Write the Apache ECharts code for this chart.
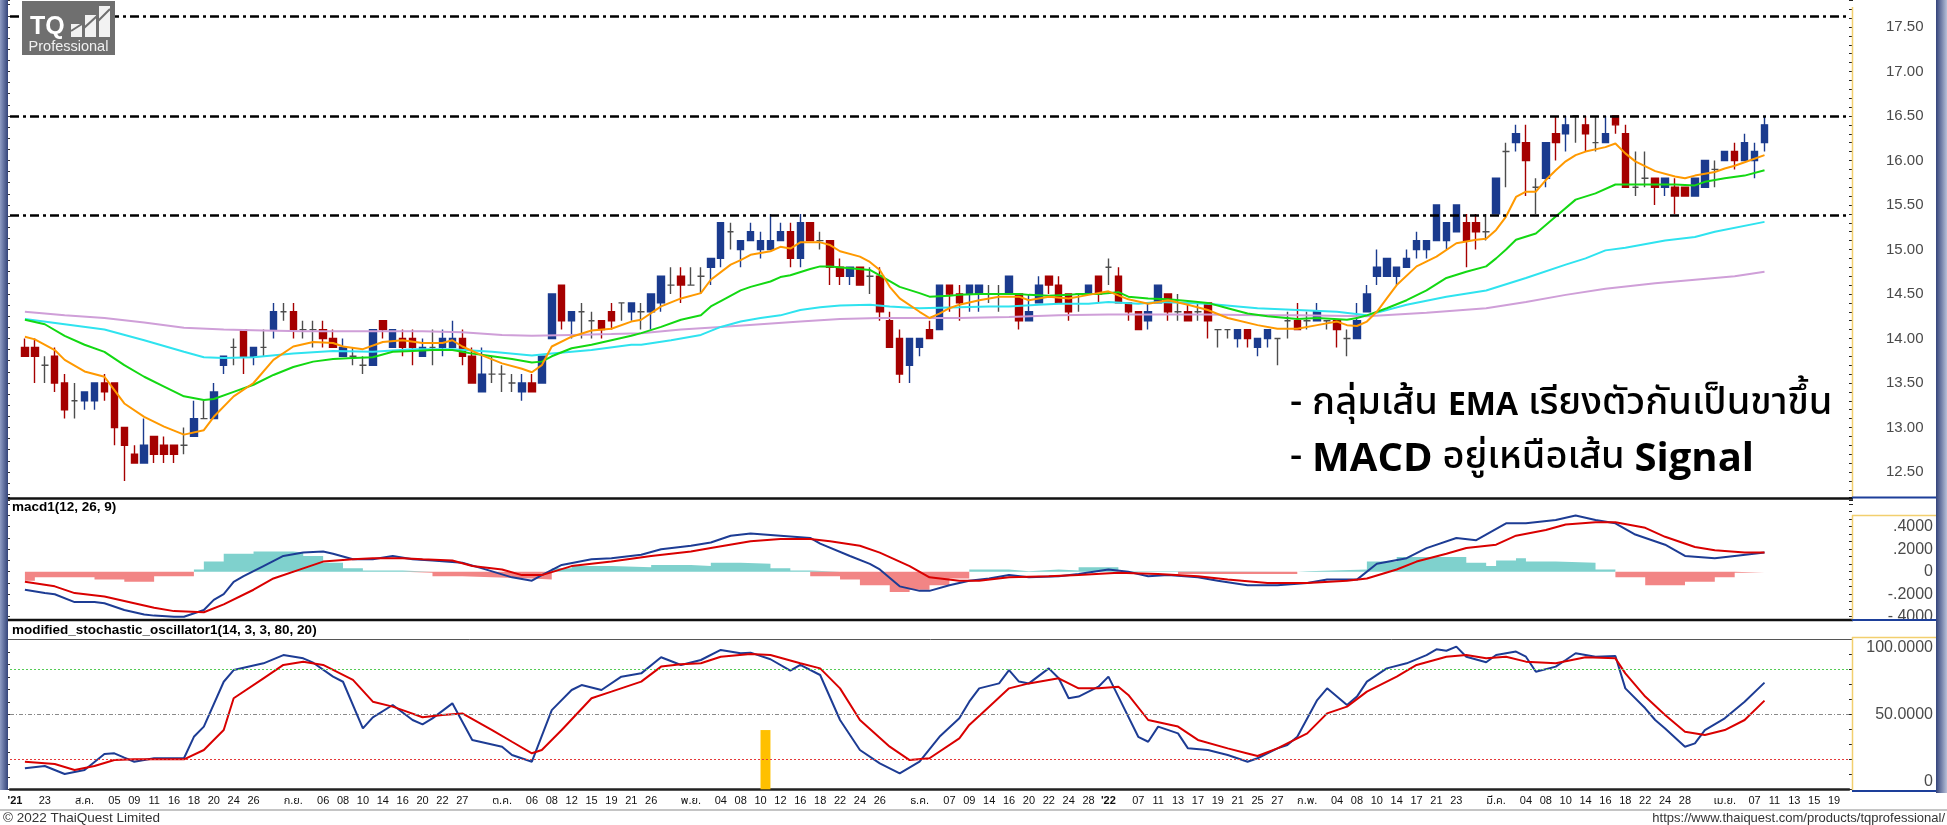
<!DOCTYPE html>
<html>
<head>
<meta charset="utf-8">
<title>TQ Professional chart</title>
<script src="https://cdn.jsdelivr.net/npm/echarts@6/dist/echarts.min.js"></script>
<style>
  html, body { margin: 0; padding: 0; background: #fff; }
  #chart { width: 1947px; height: 825px; }
</style>
</head>
<body>
<div id="chart"></div>
<script>
// time axis has 185 slots, candles sit on slots 1..176
const slotCount = 185

// tick labels on the time axis: [slot, text]
const xTickLabels = [
  [0, "'21"], [3, '23'], [7, 'ส.ค.'], [10, '05'], [12, '09'], [14, '11'], [16, '16'], [18, '18'], [20, '20'], [22, '24'], [24, '26'],
  [28, 'ก.ย.'], [31, '06'], [33, '08'], [35, '10'], [37, '14'], [39, '16'], [41, '20'], [43, '22'], [45, '27'],
  [49, 'ต.ค.'], [52, '06'], [54, '08'], [56, '12'], [58, '15'], [60, '19'], [62, '21'], [64, '26'],
  [68, 'พ.ย.'], [71, '04'], [73, '08'], [75, '10'], [77, '12'], [79, '16'], [81, '18'], [83, '22'], [85, '24'], [87, '26'],
  [91, 'ธ.ค.'], [94, '07'], [96, '09'], [98, '14'], [100, '16'], [102, '20'], [104, '22'], [106, '24'], [108, '28'],
  [110, "'22"], [113, '07'], [115, '11'], [117, '13'], [119, '17'], [121, '19'], [123, '21'], [125, '25'], [127, '27'],
  [130, 'ก.พ.'], [133, '04'], [135, '08'], [137, '10'], [139, '14'], [141, '17'], [143, '21'], [145, '23'],
  [149, 'มี.ค.'], [152, '04'], [154, '08'], [156, '10'], [158, '14'], [160, '16'], [162, '18'], [164, '22'], [166, '24'], [168, '28'],
  [172, 'เม.ย.'], [175, '07'], [177, '11'], [179, '13'], [181, '15'], [183, '19']
]

// [open, close, low, high], slot 1 .. 176
const ohlc = [
  [13.9, 13.8, 13.8, 14.0], [13.9, 13.8, 13.5, 14.0], [13.7, 13.7, 13.5, 13.8], [13.8, 13.5, 13.4, 13.9], [13.5, 13.2, 13.1, 13.6],
  [13.3, 13.3, 13.1, 13.5], [13.3, 13.4, 13.2, 13.4], [13.3, 13.5, 13.2, 13.5], [13.5, 13.4, 13.3, 13.6], [13.5, 13.0, 12.8, 13.5],
  [13.0, 12.8, 12.4, 13.0], [12.7, 12.6, 12.6, 12.8], [12.6, 12.8, 12.6, 13.1], [12.9, 12.7, 12.6, 12.9], [12.8, 12.7, 12.6, 12.9],
  [12.8, 12.7, 12.6, 12.8], [12.8, 12.8, 12.7, 13.0], [12.9, 13.1, 12.9, 13.3], [13.1, 13.1, 13.1, 13.3], [13.1, 13.4, 13.1, 13.5],
  [13.7, 13.8, 13.6, 13.8], [13.9, 13.9, 13.7, 14.0], [14.1, 13.8, 13.6, 14.1], [13.8, 13.9, 13.7, 13.9], [13.9, 13.9, 13.8, 14.1],
  [14.1, 14.3, 14.0, 14.4], [14.3, 14.3, 14.2, 14.4], [14.3, 14.1, 14.0, 14.4], [14.1, 14.1, 14.0, 14.2], [14.1, 14.1, 13.9, 14.2],
  [14.1, 14.0, 13.9, 14.2], [14.0, 13.9, 13.9, 14.1], [13.8, 13.9, 13.8, 14.0], [13.8, 13.8, 13.7, 13.9], [13.7, 13.7, 13.6, 13.8],
  [13.7, 14.1, 13.7, 14.1], [14.2, 14.1, 14.0, 14.2], [13.9, 14.1, 13.9, 14.1], [14.0, 13.9, 13.8, 14.1], [14.0, 13.9, 13.7, 14.1],
  [13.8, 13.9, 13.8, 14.0], [13.9, 13.9, 13.7, 14.1], [13.9, 14.0, 13.8, 14.1], [13.9, 14.0, 13.9, 14.2], [14.0, 13.8, 13.7, 14.1],
  [13.8, 13.5, 13.5, 13.9], [13.4, 13.6, 13.4, 13.9], [13.6, 13.6, 13.5, 13.8], [13.6, 13.6, 13.4, 13.7], [13.5, 13.5, 13.4, 13.6],
  [13.4, 13.5, 13.3, 13.6], [13.5, 13.4, 13.4, 13.6], [13.5, 13.8, 13.5, 13.8], [14.0, 14.5, 14.0, 14.5], [14.6, 14.2, 14.1, 14.6],
  [14.2, 14.3, 14.0, 14.3], [14.3, 14.3, 14.0, 14.4], [14.2, 14.2, 14.0, 14.3], [14.2, 14.1, 14.0, 14.2], [14.3, 14.2, 14.1, 14.4],
  [14.4, 14.4, 14.2, 14.4], [14.3, 14.4, 14.2, 14.4], [14.3, 14.3, 14.1, 14.4], [14.3, 14.5, 14.1, 14.5], [14.4, 14.7, 14.3, 14.7],
  [14.6, 14.6, 14.5, 14.8], [14.7, 14.6, 14.4, 14.8], [14.6, 14.6, 14.6, 14.8], [14.7, 14.7, 14.5, 14.8], [14.8, 14.9, 14.6, 14.9],
  [14.9, 15.3, 14.8, 15.3], [15.2, 15.2, 15.0, 15.3], [15.0, 15.1, 14.8, 15.1], [15.1, 15.2, 15.1, 15.3], [15.0, 15.1, 14.9, 15.2],
  [15.0, 15.1, 15.0, 15.4], [15.1, 15.2, 15.1, 15.3], [15.2, 14.9, 14.8, 15.3], [14.9, 15.3, 14.8, 15.4], [15.3, 15.1, 15.1, 15.3],
  [15.1, 15.1, 15.0, 15.2], [15.1, 14.8, 14.6, 15.1], [14.8, 14.7, 14.6, 14.9], [14.7, 14.8, 14.6, 14.8], [14.8, 14.6, 14.6, 14.8],
  [14.7, 14.7, 14.5, 14.8], [14.7, 14.3, 14.2, 14.8], [14.2, 13.9, 13.9, 14.3], [14.0, 13.6, 13.5, 14.1], [13.7, 14.0, 13.5, 14.0],
  [13.9, 14.0, 13.8, 14.0], [14.1, 14.0, 14.0, 14.2], [14.1, 14.6, 14.1, 14.6], [14.6, 14.5, 14.3, 14.6], [14.5, 14.4, 14.2, 14.6],
  [14.5, 14.6, 14.3, 14.6], [14.5, 14.6, 14.3, 14.6], [14.5, 14.5, 14.4, 14.6], [14.5, 14.5, 14.3, 14.6], [14.5, 14.7, 14.5, 14.7],
  [14.5, 14.2, 14.1, 14.5], [14.2, 14.3, 14.2, 14.5], [14.4, 14.6, 14.4, 14.7], [14.7, 14.6, 14.5, 14.7], [14.6, 14.4, 14.4, 14.7],
  [14.5, 14.3, 14.2, 14.5], [14.5, 14.5, 14.3, 14.5], [14.5, 14.6, 14.5, 14.6], [14.7, 14.5, 14.4, 14.7], [14.8, 14.8, 14.6, 14.9],
  [14.7, 14.4, 14.4, 14.8], [14.4, 14.3, 14.2, 14.4], [14.3, 14.1, 14.1, 14.3], [14.2, 14.3, 14.1, 14.4], [14.4, 14.6, 14.4, 14.6],
  [14.5, 14.3, 14.2, 14.5], [14.3, 14.3, 14.2, 14.5], [14.3, 14.2, 14.2, 14.4], [14.3, 14.3, 14.2, 14.4], [14.4, 14.2, 14.0, 14.4],
  [14.1, 14.1, 13.9, 14.1], [14.1, 14.1, 14.0, 14.1], [14.0, 14.1, 13.9, 14.1], [14.1, 14.0, 13.9, 14.1], [13.9, 14.0, 13.8, 14.0],
  [14.0, 14.1, 13.9, 14.1], [14.0, 14.0, 13.7, 14.0], [14.2, 14.2, 14.0, 14.3], [14.2, 14.1, 14.1, 14.4], [14.2, 14.2, 14.1, 14.3],
  [14.2, 14.3, 14.2, 14.4], [14.2, 14.2, 14.1, 14.2], [14.2, 14.1, 13.9, 14.2], [14.0, 14.0, 13.8, 14.1], [14.0, 14.2, 14.0, 14.4],
  [14.3, 14.5, 14.3, 14.6], [14.7, 14.8, 14.6, 15.0], [14.7, 14.9, 14.7, 14.9], [14.7, 14.8, 14.6, 14.8], [14.8, 14.9, 14.8, 15.0],
  [15.0, 15.1, 14.9, 15.2], [15.0, 15.1, 14.9, 15.1], [15.1, 15.5, 15.1, 15.5], [15.1, 15.3, 15.0, 15.3], [15.2, 15.5, 15.2, 15.5],
  [15.3, 15.1, 14.8, 15.4], [15.3, 15.2, 15.0, 15.4], [15.2, 15.2, 15.1, 15.4], [15.4, 15.8, 15.4, 15.8], [16.1, 16.1, 15.7, 16.2],
  [16.2, 16.3, 16.1, 16.4], [16.2, 16.0, 15.6, 16.4], [15.7, 15.7, 15.4, 15.8], [15.8, 16.2, 15.7, 16.2], [16.3, 16.2, 16.0, 16.5],
  [16.3, 16.4, 16.1, 16.5], [16.5, 16.5, 16.2, 16.5], [16.4, 16.3, 16.1, 16.5], [16.2, 16.2, 16.1, 16.5], [16.2, 16.3, 16.2, 16.5],
  [16.5, 16.4, 16.3, 16.5], [16.3, 15.7, 15.7, 16.4], [15.7, 15.7, 15.6, 16.1], [15.8, 15.8, 15.7, 16.1], [15.8, 15.7, 15.5, 15.8],
  [15.7, 15.8, 15.6, 15.8], [15.7, 15.6, 15.4, 15.8], [15.7, 15.6, 15.6, 15.7], [15.6, 15.8, 15.6, 15.8], [15.7, 16.0, 15.7, 16.0],
  [15.9, 15.9, 15.7, 16.0], [16.0, 16.1, 16.0, 16.1], [16.1, 16.0, 15.9, 16.2], [16.0, 16.2, 16.0, 16.3], [16.0, 16.1, 15.8, 16.2],
  [16.2, 16.4, 16.1, 16.5]
]

// moving averages: [slot, price]
const emaOrange = [
  [1, 14.02], [2, 13.99], [4, 13.87], [5, 13.76], [7, 13.63], [9, 13.57], [10, 13.42], [11, 13.27], [13, 13.12], [15, 13.01],
  [17, 12.92], [19, 12.97], [20, 13.12], [22, 13.35], [24, 13.50], [26, 13.76], [28, 13.91], [30, 13.96], [32, 13.95], [33, 13.91],
  [35, 13.88], [37, 13.96], [39, 13.98], [41, 13.95], [43, 13.95], [44, 13.98], [45, 13.91], [47, 13.81], [49, 13.72], [51, 13.66],
  [52, 13.62], [53, 13.70], [54, 13.91], [56, 14.02], [58, 14.09], [60, 14.11], [62, 14.19], [63, 14.21], [65, 14.36], [67, 14.45],
  [69, 14.51], [70, 14.66], [72, 14.83], [73, 14.88], [74, 14.94], [76, 14.98], [77, 15.03], [78, 15.01], [79, 15.08], [81, 15.08],
  [82, 15.05], [83, 14.98], [85, 14.92], [86, 14.86], [87, 14.77], [88, 14.58], [89, 14.45], [91, 14.30], [92, 14.23], [93, 14.28],
  [94, 14.34], [95, 14.38], [97, 14.43], [99, 14.47], [101, 14.47], [102, 14.43], [104, 14.47], [106, 14.45], [108, 14.49], [110, 14.53],
  [112, 14.44], [114, 14.39], [116, 14.43], [118, 14.38], [120, 14.32], [122, 14.23], [125, 14.15], [127, 14.11], [129, 14.11], [131, 14.15],
  [133, 14.19], [134, 14.15], [135, 14.14], [136, 14.19], [137, 14.30], [138, 14.45], [139, 14.60], [141, 14.81], [143, 14.92], [145, 15.07],
  [147, 15.11], [148, 15.12], [149, 15.22], [150, 15.37], [151, 15.59], [152, 15.65], [153, 15.65], [154, 15.78], [155, 15.89], [156, 15.99],
  [157, 16.06], [158, 16.10], [160, 16.15], [161, 16.19], [162, 16.08], [163, 15.99], [165, 15.88], [167, 15.82], [168, 15.80], [169, 15.83],
  [171, 15.87], [172, 15.91], [173, 15.94], [174, 15.98], [176, 16.06]
]
const emaGreen = [
  [1, 14.21], [3, 14.16], [5, 14.03], [7, 13.93], [9, 13.85], [11, 13.70], [13, 13.57], [15, 13.46], [17, 13.35], [19, 13.31],
  [20, 13.32], [22, 13.40], [24, 13.48], [26, 13.59], [28, 13.68], [30, 13.74], [32, 13.77], [34, 13.78], [36, 13.79], [38, 13.85],
  [40, 13.86], [42, 13.87], [44, 13.87], [46, 13.83], [48, 13.80], [50, 13.77], [52, 13.73], [53, 13.74], [54, 13.80], [56, 13.89],
  [58, 13.93], [60, 13.98], [62, 14.03], [63, 14.06], [65, 14.13], [67, 14.21], [69, 14.26], [70, 14.36], [71, 14.42], [73, 14.54],
  [74, 14.58], [76, 14.64], [77, 14.69], [78, 14.71], [80, 14.78], [81, 14.81], [82, 14.81], [84, 14.79], [86, 14.77], [87, 14.71],
  [89, 14.58], [91, 14.51], [92, 14.47], [94, 14.48], [95, 14.49], [97, 14.50], [99, 14.50], [101, 14.50], [102, 14.49], [104, 14.48],
  [106, 14.49], [107, 14.50], [109, 14.50], [111, 14.52], [112, 14.47], [114, 14.45], [116, 14.44], [118, 14.42], [120, 14.40], [122, 14.34],
  [124, 14.28], [126, 14.25], [129, 14.22], [131, 14.23], [134, 14.21], [135, 14.23], [136, 14.26], [138, 14.34], [140, 14.43], [142, 14.54],
  [144, 14.68], [146, 14.75], [148, 14.81], [149, 14.90], [150, 15.00], [151, 15.11], [153, 15.18], [155, 15.37], [157, 15.56], [159, 15.63],
  [161, 15.73], [163, 15.73], [165, 15.73], [167, 15.73], [169, 15.72], [170, 15.76], [172, 15.80], [174, 15.83], [176, 15.89]
]
const emaCyan = [
  [1, 14.22], [5, 14.16], [9, 14.10], [13, 13.98], [17, 13.85], [19, 13.79], [21, 13.78], [24, 13.79], [28, 13.83], [32, 13.86],
  [36, 13.85], [40, 13.88], [44, 13.88], [48, 13.85], [52, 13.81], [54, 13.83], [58, 13.87], [62, 13.93], [63, 13.93], [66, 13.98],
  [69, 14.04], [71, 14.13], [73, 14.19], [75, 14.23], [77, 14.26], [79, 14.32], [81, 14.35], [83, 14.37], [86, 14.38], [88, 14.36],
  [91, 14.34], [95, 14.35], [98, 14.36], [100, 14.36], [103, 14.38], [105, 14.39], [108, 14.39], [110, 14.41], [113, 14.39], [115, 14.41],
  [118, 14.40], [120, 14.39], [123, 14.36], [125, 14.34], [129, 14.32], [133, 14.30], [136, 14.26], [140, 14.38], [144, 14.47], [148, 14.54],
  [152, 14.68], [156, 14.83], [158, 14.90], [160, 14.99], [162, 15.02], [166, 15.10], [169, 15.14], [171, 15.20], [176, 15.31]
]
const emaViolet = [
  [1, 14.30], [5, 14.26], [9, 14.23], [13, 14.18], [17, 14.12], [21, 14.10], [25, 14.09], [29, 14.08], [33, 14.08], [37, 14.08],
  [41, 14.08], [45, 14.07], [49, 14.04], [52, 14.03], [56, 14.04], [60, 14.05], [63, 14.06], [67, 14.10], [71, 14.13], [75, 14.16],
  [79, 14.19], [83, 14.22], [87, 14.23], [91, 14.23], [95, 14.23], [100, 14.24], [105, 14.26], [110, 14.27], [115, 14.27], [120, 14.27],
  [125, 14.26], [129, 14.26], [136, 14.25], [142, 14.29], [148, 14.34], [152, 14.41], [156, 14.49], [160, 14.56], [165, 14.62], [169, 14.66],
  [173, 14.70], [176, 14.75]
]

// macd(12, 26, 9): [slot, value]
const macdLine = [
  [1, -0.16], [3, -0.19], [4, -0.20], [6, -0.27], [8, -0.27], [9, -0.28], [11, -0.34], [13, -0.38], [14, -0.39], [16, -0.40],
  [17, -0.40], [19, -0.34], [20, -0.25], [21, -0.20], [22, -0.09], [23, -0.04], [25, 0.05], [27, 0.14], [29, 0.17], [31, 0.18],
  [32, 0.16], [34, 0.11], [36, 0.11], [38, 0.14], [40, 0.11], [42, 0.10], [45, 0.08], [47, 0.03], [50, -0.05], [52, -0.08],
  [53, -0.03], [55, 0.06], [58, 0.11], [60, 0.12], [63, 0.15], [65, 0.20], [68, 0.23], [70, 0.26], [72, 0.32], [74, 0.34],
  [77, 0.32], [80, 0.30], [81, 0.25], [84, 0.14], [86, 0.07], [87, 0.02], [89, -0.13], [91, -0.17], [92, -0.17], [94, -0.12],
  [96, -0.08], [98, -0.06], [100, -0.03], [102, -0.05], [105, -0.04], [107, -0.02], [110, 0.02], [112, 0.00], [114, -0.04], [116, -0.03],
  [119, -0.05], [121, -0.08], [124, -0.12], [127, -0.12], [130, -0.10], [132, -0.07], [135, -0.07], [137, 0.07], [140, 0.12], [142, 0.21],
  [145, 0.30], [147, 0.28], [150, 0.43], [152, 0.43], [155, 0.46], [157, 0.50], [159, 0.46], [161, 0.43], [163, 0.33], [166, 0.24],
  [168, 0.14], [171, 0.12], [173, 0.14], [176, 0.17]
]
const signalLine = [
  [1, -0.09], [4, -0.13], [6, -0.19], [9, -0.22], [11, -0.26], [14, -0.32], [16, -0.35], [19, -0.36], [21, -0.29], [24, -0.16],
  [26, -0.06], [29, 0.03], [31, 0.09], [34, 0.11], [36, 0.12], [39, 0.12], [41, 0.11], [44, 0.10], [46, 0.05], [49, 0.02],
  [51, -0.03], [53, -0.03], [56, 0.05], [60, 0.09], [64, 0.14], [68, 0.18], [70, 0.21], [74, 0.27], [77, 0.29], [80, 0.29],
  [82, 0.27], [85, 0.23], [87, 0.17], [90, 0.05], [92, -0.05], [95, -0.08], [97, -0.08], [100, -0.05], [104, -0.04], [107, -0.03],
  [111, -0.01], [115, -0.02], [119, -0.04], [122, -0.07], [126, -0.10], [130, -0.10], [134, -0.08], [136, -0.06], [139, 0.02], [141, 0.09],
  [144, 0.16], [146, 0.21], [149, 0.24], [151, 0.32], [154, 0.37], [156, 0.42], [159, 0.44], [161, 0.44], [164, 0.39], [166, 0.31],
  [169, 0.22], [171, 0.19], [174, 0.17], [176, 0.17]
]
// histogram steps: value holds from this slot to the next one
const macdHist = [
  [1, -0.08], [2, -0.05], [8, -0.07], [11, -0.09], [14, -0.04], [18, 0.02], [19, 0.09], [21, 0.16], [24, 0.18], [28, 0.17],
  [29, 0.14], [31, 0.08], [33, 0.03], [35, 0.01], [39, -0.01], [42, -0.04], [45, -0.05], [48, -0.06], [52, -0.07], [54, 0.03],
  [56, 0.05], [60, 0.04], [64, 0.06], [68, 0.05], [70, 0.08], [73, 0.07], [76, 0.03], [78, 0.01], [80, -0.04], [83, -0.07],
  [85, -0.12], [88, -0.18], [90, -0.16], [92, -0.12], [94, -0.06], [96, 0.02], [100, 0.005], [102, 0.02], [105, 0.01], [107, 0.04],
  [111, 0.005], [117, -0.02], [129, 0.005], [130, 0.02], [136, 0.09], [139, 0.13], [146, 0.08], [148, 0.05], [149, 0.10], [151, 0.12],
  [152, 0.09], [155, 0.08], [159, 0.02], [161, -0.05], [164, -0.12], [168, -0.09], [171, -0.05], [173, -0.01], [176, -0.01]
]

// modified stochastic (14, 3, 3, 80, 20)
const stochK = [
  [1, 14.0], [3, 15.5], [5, 10.2], [7, 12.9], [9, 23.5], [10, 24.0], [11, 21.1], [12, 18.4], [14, 20.7], [17, 20.7],
  [18, 35.0], [19, 41.8], [21, 71.7], [22, 79.5], [25, 84.0], [27, 89.5], [29, 87.3], [30, 84.4], [32, 75.1], [33, 71.7],
  [35, 40.6], [36, 48.0], [38, 56.2], [40, 46.2], [41, 43.3], [42, 47.3], [44, 57.3], [46, 32.9], [49, 28.4], [50, 22.9],
  [52, 18.4], [54, 52.8], [56, 66.2], [57, 69.5], [59, 66.2], [61, 75.1], [63, 77.3], [65, 88.0], [67, 82.9], [69, 86.2],
  [71, 92.9], [73, 90.7], [74, 91.1], [76, 86.7], [78, 79.1], [79, 82.9], [81, 76.2], [83, 46.2], [85, 26.2], [87, 17.3],
  [89, 10.6], [91, 18.4], [93, 35.0], [95, 47.3], [96, 58.4], [97, 67.3], [99, 70.6], [100, 79.5], [101, 71.8], [102, 70.6],
  [104, 80.6], [105, 74.0], [106, 60.7], [107, 61.8], [109, 68.4], [110, 75.1], [111, 61.8], [113, 35.0], [114, 31.7], [115, 41.8],
  [117, 37.3], [118, 27.3], [120, 26.2], [122, 22.9], [124, 18.4], [125, 20.7], [127, 27.3], [128, 29.5], [129, 35.0], [131, 59.5],
  [132, 67.3], [134, 56.2], [135, 61.8], [136, 71.8], [138, 80.6], [140, 84.0], [142, 89.5], [143, 93.3], [144, 92.4], [145, 95.1],
  [146, 88.4], [148, 84.7], [149, 89.5], [151, 91.8], [152, 88.4], [153, 78.4], [155, 81.8], [156, 86.2], [157, 90.7], [159, 88.4],
  [161, 88.9], [162, 67.3], [164, 54.0], [165, 46.2], [166, 40.6], [168, 28.4], [169, 30.6], [170, 39.5], [172, 47.3], [174, 58.4],
  [176, 71.1]
]
const stochD = [
  [1, 18.4], [4, 16.9], [6, 12.9], [8, 15.5], [10, 19.5], [12, 20.0], [17, 20.0], [19, 26.2], [21, 39.5], [22, 60.7],
  [25, 74.0], [27, 82.9], [29, 85.1], [31, 82.9], [34, 72.9], [36, 58.4], [38, 55.1], [39, 52.8], [41, 48.0], [43, 49.5],
  [45, 50.6], [48, 39.5], [50, 31.7], [52, 24.0], [53, 26.2], [55, 39.5], [58, 60.7], [60, 65.1], [63, 71.8], [65, 81.8],
  [67, 83.3], [69, 84.0], [71, 88.4], [74, 90.2], [76, 89.5], [79, 84.0], [81, 80.6], [83, 67.3], [85, 46.2], [88, 28.4],
  [90, 19.5], [92, 20.7], [95, 34.0], [96, 42.9], [98, 55.1], [100, 67.3], [102, 70.6], [105, 74.0], [107, 67.3], [109, 67.3],
  [111, 68.4], [112, 62.9], [114, 46.2], [117, 41.8], [119, 32.9], [122, 27.3], [124, 23.9], [125, 22.2], [127, 27.3], [130, 37.3],
  [132, 50.6], [134, 55.1], [136, 65.1], [139, 75.1], [141, 82.9], [144, 88.4], [146, 89.5], [148, 87.3], [150, 88.4], [152, 85.1],
  [155, 84.0], [158, 88.0], [161, 87.3], [162, 77.3], [164, 61.8], [166, 49.5], [168, 38.4], [170, 36.2], [172, 39.5], [174, 46.2],
  [176, 59.1]
]

// dash-dot price levels
const priceLevels = [17.62, 16.5, 15.38]
// stochastic guide lines
const stochLevels = [80, 50, 20]
// orange marker in the stochastic pane: [slot, height]
const signalMark = [75, 39.5]

const labelMap = {}
xTickLabels.forEach(([s, t]) => { labelMap[s] = t })
const slots = Array.from({ length: slotCount }, (_, i) => String(i))

const FONT = "'Liberation Sans', Arial, 'Noto Sans Thai', Tahoma, sans-serif"
const THAI = "'Noto Sans Thai', 'Noto Sans Thai UI', Tahoma, Leelawadee, Loma, Garuda, 'Noto Sans', sans-serif"
const LATIN_BOLD = '"Open Sans", "Noto Sans", sans-serif'

const gridLeft = 10
const gridWidth = 1839

function xAxisFor(gridIndex, showLabels) {
  return {
    type: 'category',
    gridIndex: gridIndex,
    data: slots,
    boundaryGap: true,
    axisTick: { show: false },
    axisLine: showLabels ? { show: true, lineStyle: { color: '#222', width: 2.5 } } : { show: false },
    splitLine: { show: false },
    axisLabel: showLabels ? {
      interval: 0,
      margin: 6,
      fontSize: 11,
      color: '#111',
      fontFamily: FONT,
      formatter: (v, i) => {
        const t = labelMap[i]
        if (!t) return ''
        return t.charAt(0) === "'" ? '{y|' + t + '}' : t
      },
      rich: { y: { fontWeight: 'bold', fontSize: 11, fontFamily: FONT, color: '#111' } }
    } : { show: false }
  }
}

function tickAxis(gridIndex, min, max, interval, minorSplit) {
  // left edge ticks only
  return {
    type: 'value', gridIndex: gridIndex, position: 'left', min: min, max: max,
    minInterval: interval, maxInterval: interval, splitNumber: Math.round((max - min) / interval),
    axisLine: { show: false }, splitLine: { show: false }, axisLabel: { show: false },
    axisTick: { show: true, length: 3, lineStyle: { color: '#333' } },
    minorTick: { show: true, splitNumber: minorSplit, length: 3, lineStyle: { color: '#333' } }
  }
}

const chart = echarts.init(document.getElementById('chart'))

chart.setOption({
  animation: false,
  backgroundColor: '#fff',
  grid: [
    { left: gridLeft, top: 0, width: gridWidth, height: 497 },
    { left: gridLeft, top: 500, width: gridWidth, height: 119 },
    { left: gridLeft, top: 639.3, width: gridWidth, height: 150 }
  ],
  xAxis: [xAxisFor(0, false), xAxisFor(1, false), xAxisFor(2, true)],
  yAxis: [
    tickAxis(0, 12.219, 17.803, 0.5, 4),
    {
      type: 'value', gridIndex: 0, position: 'right', min: 12.219, max: 17.803,
      minInterval: 0.5, maxInterval: 0.5, splitNumber: 11,
      axisLine: { show: false }, splitLine: { show: false },
      axisTick: { show: true, length: 4, lineStyle: { color: '#222' } },
      minorTick: { show: true, splitNumber: 5, length: 3, lineStyle: { color: '#222' } },
      axisLabel: {
        margin: 37, align: 'left', fontSize: 15, color: '#4a4a4a', fontFamily: FONT,
        showMinLabel: false, showMaxLabel: false,
        formatter: v => v.toFixed(2)
      }
    },
    tickAxis(1, -0.42, 0.637, 0.2, 2),
    {
      type: 'value', gridIndex: 1, position: 'right', min: -0.42, max: 0.637,
      minInterval: 0.2, maxInterval: 0.2, splitNumber: 5,
      axisLine: { show: false }, splitLine: { show: false },
      axisTick: { show: true, length: 4, lineStyle: { color: '#222' } },
      minorTick: { show: true, splitNumber: 3, length: 3, lineStyle: { color: '#222' } },
      axisLabel: {
        margin: 84, align: 'right', fontSize: 16, color: '#4a4a4a', fontFamily: FONT,
        showMinLabel: false, showMaxLabel: false,
        formatter: v => {
          if (Math.abs(v) < 1e-9) return '0'
          if (v > 0.5) return ''
          return (v < 0 ? '-' : '') + Math.abs(v).toFixed(4).slice(1)
        }
      }
    },
    tickAxis(2, 0, 100, 50, 6),
    {
      type: 'value', gridIndex: 2, position: 'right', min: 0, max: 100, interval: 50,
      axisLine: { show: false }, splitLine: { show: false },
      axisTick: { show: true, length: 4, lineStyle: { color: '#222' } },
      minorTick: { show: true, splitNumber: 5, length: 3, lineStyle: { color: '#222' } },
      axisLabel: {
        margin: 84, align: 'right', fontSize: 16, color: '#4a4a4a', fontFamily: FONT,
        verticalAlignMaxLabel: 'top', verticalAlignMinLabel: 'bottom',
        formatter: v => v === 0 ? '0' : v.toFixed(4)
      }
    }
  ],
  series: [
    {
      type: 'candlestick', xAxisIndex: 0, yAxisIndex: 1,
      data: ['-'].concat(ohlc),
      barWidth: 7,
      itemStyle: {
        color: '#1b3b8e', color0: '#a50000',
        borderColor: '#1b3b8e', borderColor0: '#a50000', borderColorDoji: '#4d4d4d',
        borderWidth: 1.4
      },
      markLine: {
        silent: true, symbol: ['none', 'none'], label: { show: false },
        lineStyle: { color: '#000', width: 2.5, type: [9, 4, 3, 4] },
        data: priceLevels.map(v => ({ yAxis: v }))
      }
    },
    { type: 'line', xAxisIndex: 0, yAxisIndex: 1, data: emaViolet, symbol: 'none', lineStyle: { color: '#cf9fd8', width: 2 } },
    { type: 'line', xAxisIndex: 0, yAxisIndex: 1, data: emaCyan, symbol: 'none', lineStyle: { color: '#2fe3ef', width: 2 } },
    { type: 'line', xAxisIndex: 0, yAxisIndex: 1, data: emaGreen, symbol: 'none', lineStyle: { color: '#13d813', width: 2 } },
    { type: 'line', xAxisIndex: 0, yAxisIndex: 1, data: emaOrange, symbol: 'none', lineStyle: { color: '#ff9900', width: 2 } },

    {
      type: 'line', xAxisIndex: 1, yAxisIndex: 3, step: 'end', symbol: 'none',
      data: macdHist.map(([s, v]) => [s, Math.max(v, 0)]),
      lineStyle: { width: 0 }, areaStyle: { color: '#7fd1cd', opacity: 1 }
    },
    {
      type: 'line', xAxisIndex: 1, yAxisIndex: 3, step: 'end', symbol: 'none',
      data: macdHist.map(([s, v]) => [s, Math.min(v, 0)]),
      lineStyle: { width: 0 }, areaStyle: { color: '#f28585', opacity: 1 }
    },
    { type: 'line', xAxisIndex: 1, yAxisIndex: 3, data: macdLine, symbol: 'none', lineStyle: { color: '#1d3c94', width: 2 } },
    { type: 'line', xAxisIndex: 1, yAxisIndex: 3, data: signalLine, symbol: 'none', lineStyle: { color: '#d90000', width: 2 } },

    {
      type: 'line', xAxisIndex: 2, yAxisIndex: 5, data: stochK, symbol: 'none',
      lineStyle: { color: '#1d3c94', width: 2 }, z: 4,
      markLine: {
        silent: true, symbol: ['none', 'none'], label: { show: false },
        data: [
          { yAxis: stochLevels[0], lineStyle: { color: '#55cc55', width: 1, type: [2, 2] } },
          { yAxis: stochLevels[1], lineStyle: { color: '#8a8a8a', width: 1, type: [4, 2, 1, 2] } },
          { yAxis: stochLevels[2], lineStyle: { color: '#e53a3a', width: 1, type: [2, 2] } }
        ]
      },
      markArea: {
        silent: true,
        itemStyle: { color: '#ffc000', opacity: 1 },
        data: [[{ xAxis: String(signalMark[0]), yAxis: signalMark[1] }, { xAxis: String(signalMark[0] + 1), yAxis: 0 }]]
      }
    },
    { type: 'line', xAxisIndex: 2, yAxisIndex: 5, data: stochD, symbol: 'none', lineStyle: { color: '#d90000', width: 2 }, z: 4 }
  ],
  graphic: [
    // side strips
    {
      type: 'rect', z: 100, shape: { x: 0, y: 0, width: 8, height: 790 },
      style: { fill: new echarts.graphic.LinearGradient(0, 0, 1, 0, [{ offset: 0, color: '#8e9cc4' }, { offset: 1, color: '#34457a' }]) }
    },
    {
      type: 'rect', z: 100, shape: { x: 1936, y: 0, width: 11, height: 793 },
      style: { fill: new echarts.graphic.LinearGradient(0, 0, 1, 0, [{ offset: 0, color: '#33437a' }, { offset: 1, color: '#b8c0d8' }]) }
    },
    // pane separators
    { type: 'line', z: 100, shape: { x1: 8, y1: 498.5, x2: 1853, y2: 498.5 }, style: { stroke: '#111', lineWidth: 2.5 } },
    { type: 'line', z: 100, shape: { x1: 8, y1: 620, x2: 1853, y2: 620 }, style: { stroke: '#111', lineWidth: 2.5 } },
    { type: 'line', z: 100, shape: { x1: 8, y1: 639.5, x2: 1853, y2: 639.5 }, style: { stroke: '#555', lineWidth: 1 } },
    { type: 'line', z: 100, shape: { x1: 0, y1: 810, x2: 1947, y2: 810 }, style: { stroke: '#b0b0b0', lineWidth: 1.5 } },
    // right scale frames
    { type: 'line', z: 100, shape: { x1: 1852.5, y1: 7, x2: 1852.5, y2: 497 }, style: { stroke: '#f2cf6e', lineWidth: 1.5 } },
    { type: 'line', z: 100, shape: { x1: 1852.5, y1: 515, x2: 1852.5, y2: 620 }, style: { stroke: '#f2cf6e', lineWidth: 1.5 } },
    { type: 'line', z: 100, shape: { x1: 1852, y1: 515.5, x2: 1936, y2: 515.5 }, style: { stroke: '#f2cf6e', lineWidth: 1.5 } },
    { type: 'line', z: 100, shape: { x1: 1852.5, y1: 637, x2: 1852.5, y2: 791 }, style: { stroke: '#f2cf6e', lineWidth: 1.5 } },
    { type: 'line', z: 100, shape: { x1: 1852, y1: 637.5, x2: 1936, y2: 637.5 }, style: { stroke: '#f2cf6e', lineWidth: 1.5 } },
    { type: 'line', z: 100, shape: { x1: 1852, y1: 497.5, x2: 1936, y2: 497.5 }, style: { stroke: '#1d3f9a', lineWidth: 2 } },
    { type: 'line', z: 100, shape: { x1: 1852, y1: 620, x2: 1936, y2: 620 }, style: { stroke: '#1d3f9a', lineWidth: 2 } },
    { type: 'line', z: 100, shape: { x1: 1852, y1: 791, x2: 1936, y2: 791 }, style: { stroke: '#1d3f9a', lineWidth: 2 } },
    // pane titles
    {
      type: 'text', z: 100,
      style: { x: 12, y: 507, text: 'macd1(12, 26, 9)', fill: '#000', font: 'bold 13.5px ' + FONT, verticalAlign: 'middle' }
    },
    {
      type: 'text', z: 100,
      style: { x: 12, y: 630, text: 'modified_stochastic_oscillator1(14, 3, 3, 80, 20)', fill: '#000', font: 'bold 13.5px ' + FONT, verticalAlign: 'middle' }
    },
    // footer
    {
      type: 'text', z: 100,
      style: { x: 3, y: 818, text: '© 2022 ThaiQuest Limited', fill: '#333', font: '13.5px ' + FONT, verticalAlign: 'middle' }
    },
    {
      type: 'text', z: 100,
      style: { x: 1945, y: 818, text: 'https://www.thaiquest.com/products/tqprofessional/', fill: '#333', font: '13px ' + FONT, align: 'right', verticalAlign: 'middle' }
    },
    // logo
    { type: 'rect', z: 100, shape: { x: 22, y: 1, width: 93, height: 54 }, style: { fill: '#6f6f6f' } },
    { type: 'text', z: 101, style: { x: 30, y: 27, text: 'TQ', fill: '#fff', font: 'bold 25px ' + FONT, verticalAlign: 'middle' } },
    { type: 'rect', z: 101, shape: { x: 71, y: 24, width: 11, height: 13 }, style: { fill: '#f2f2f2' } },
    { type: 'rect', z: 101, shape: { x: 85, y: 15, width: 11, height: 22 }, style: { fill: '#f2f2f2' } },
    { type: 'rect', z: 101, shape: { x: 99, y: 6, width: 11, height: 31 }, style: { fill: '#f2f2f2' } },
    { type: 'polyline', z: 102, shape: { points: [[71, 31], [82, 24], [85, 27], [96, 17], [99, 20], [110, 9]] }, style: { stroke: '#6f6f6f', lineWidth: 2, fill: null } },
    { type: 'text', z: 101, style: { x: 68.5, y: 47, text: 'Professional', fill: '#f0f0f0', font: '14.5px ' + FONT, align: 'center', verticalAlign: 'middle' } },
    // annotation
    {
      type: 'text', z: 100,
      style: {
        x: 1290, y: 406, verticalAlign: 'middle',
        text: '{d|- }{t|กลุ่มเส้น }{e|EMA}{t| เรียงตัวกันเป็นขาขึ้น}',
        rich: {
          d: { font: '500 38px ' + THAI, fill: '#000' },
          t: { font: '500 38px ' + THAI, fill: '#000' },
          e: { font: 'bold 32px ' + LATIN_BOLD, fill: '#000' }
        }
      }
    },
    {
      type: 'text', z: 100,
      style: {
        x: 1290, y: 460, verticalAlign: 'middle',
        text: '{d|- }{e|MACD}{t| อยู่เหนือเส้น }{e|Signal}',
        rich: {
          d: { font: '500 38px ' + THAI, fill: '#000' },
          t: { font: '500 38px ' + THAI, fill: '#000' },
          e: { font: 'bold 40px ' + LATIN_BOLD, fill: '#000' }
        }
      }
    }
  ]
})
</script>
</body>
</html>
